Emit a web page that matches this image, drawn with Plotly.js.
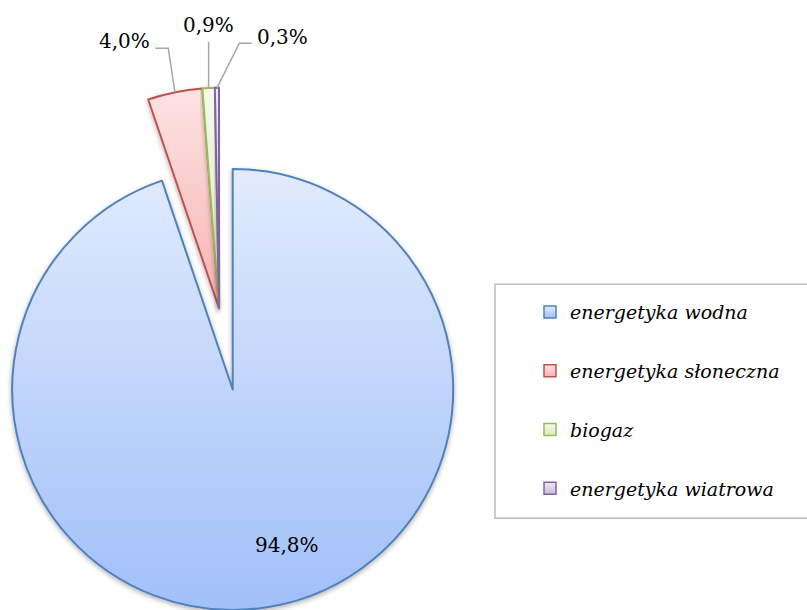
<!DOCTYPE html>
<html>
<head>
<meta charset="utf-8">
<script src="https://cdn.plot.ly/plotly-3.0.1.min.js"></script>
<style>
  html, body { margin: 0; padding: 0; overflow: hidden; background: #fff; width: 807px; height: 610px; }
  #chart { position: absolute; left: -10px; top: -10px; width: 827px; height: 630px; }
</style>
</head>
<body>
<div id="chart"></div>
<script>
// Udział źródeł energii odnawialnej (%)
const labels = ['energetyka wodna', 'energetyka słoneczna', 'biogaz', 'energetyka wiatrowa'];
const shares = [94.8, 4.0, 0.9, 0.3];

// colours per slice
const lineColors = ['#4f81bd', '#c0504d', '#9bbb59', '#8064a2'];
const fillTop = ['#e1ebfd', '#fde3e3', '#f4fae9', '#ece7f4'];
const fillBottom = ['#a1bff9', '#f8b2b2', '#d8ebb9', '#c9bcdf'];

// page geometry: the plot div is 10px larger on every side than the window
const W = 827, H = 630, PAD = 10;
const px = sx => (sx + PAD) / W;
const py = sy => 1 - (sy + PAD) / H;

const R = 220.5;
const mainCenter = [232.7, 389.5];     // unexploded slice
const pulledCenter = [219, 308.3];     // exploded group of small slices

function domainAt(c) {
  return { x: [px(c[0] - R), px(c[0] + R)], y: [py(c[1] + R), py(c[1] - R)] };
}

const clear = 'rgba(0,0,0,0)';
function pieTrace(center, shown) {
  return {
    type: 'pie',
    labels: labels,
    values: shares,
    sort: false,
    direction: 'clockwise',
    rotation: 0,
    domain: domainAt(center),
    textinfo: 'none',
    hoverinfo: 'skip',
    showlegend: false,
    marker: {
      colors: labels.map((_, i) => shown[i] ? fillTop[i] : clear),
      line: { color: labels.map((_, i) => shown[i] ? lineColors[i] : clear), width: 2 }
    }
  };
}

const mainPie = pieTrace(mainCenter, [true, false, false, false]);
const pulledPie = pieTrace(pulledCenter, [false, true, true, true]);

// legend entries (one group per source so the rows can be spaced apart)
const legendPies = labels.map((lab, i) => ({
  type: 'pie',
  labels: [lab],
  values: [1],
  domain: { x: [0, 0.0001], y: [0, 0.0001] },
  textinfo: 'none',
  hoverinfo: 'skip',
  legendgroup: 'g' + i,
  marker: { colors: [fillTop[i]], line: { color: lineColors[i], width: 1.5 } }
}));

// percentage labels
const total = shares.reduce((a, b) => a + b, 0);
const pctText = shares.map(v => (v / total * 100).toFixed(1).replace('.', ',') + '%');
const labelSpots = [[287, 544.7], [124.7, 41], [208.5, 24.5], [282.5, 36.7]];

const annotations = pctText.map((t, i) => ({
  xref: 'paper', yref: 'paper',
  x: px(labelSpots[i][0]), y: py(labelSpots[i][1]),
  xanchor: 'center', yanchor: 'middle',
  text: t, showarrow: false,
  font: { family: 'DejaVu Serif', size: 20, color: '#000' }
}));

// point on the outer arc of an exploded slice, at its mid angle
function arcPoint(center, i) {
  const before = shares.slice(0, i).reduce((a, b) => a + b, 0);
  const th = 2 * Math.PI * (before + shares[i] / 2) / total;
  return [center[0] + R * Math.sin(th), center[1] - R * Math.cos(th)];
}

const a1 = arcPoint(pulledCenter, 1), a2 = arcPoint(pulledCenter, 2), a3 = arcPoint(pulledCenter, 3);
const leaders = [
  [[155.3, 48.3], [168.3, 48.3], a1],
  [[a2[0], 41.7], a2],
  [[251.7, 43.3], [239.3, 43.3], a3]
];

const shapes = leaders.map(pts => ({
  type: 'path', xref: 'paper', yref: 'paper',
  path: pts.map((p, k) => (k ? 'L' : 'M') + px(p[0]) + ',' + py(p[1])).join(' '),
  line: { color: '#a6a6a6', width: 1.5 }
}));

// legend frame
shapes.push({
  type: 'rect', xref: 'paper', yref: 'paper',
  x0: px(495), x1: px(840), y0: py(518.3), y1: py(284.3),
  line: { color: '#bdbdbd', width: 1.5 }, fillcolor: 'rgba(0,0,0,0)'
});

const layout = {
  width: W, height: H,
  margin: { l: 0, r: 0, t: 0, b: 0, pad: 0 },
  paper_bgcolor: '#fff',
  plot_bgcolor: '#fff',
  showlegend: true,
  legend: {
    x: px(530), y: py(293.2), xanchor: 'left', yanchor: 'top',
    bgcolor: 'rgba(0,0,0,0)', borderwidth: 0,
    traceorder: 'grouped', tracegroupgap: 31,
    font: { family: 'DejaVu Serif', size: 19, style: 'italic', color: '#000' }
  },
  annotations: annotations,
  shapes: shapes
};

Plotly.newPlot('chart', [mainPie, pulledPie].concat(legendPies), layout, { staticPlot: true }).then(gd => {
  const NS = 'http://www.w3.org/2000/svg';
  const svg = gd.querySelector('svg.main-svg');
  const defs = document.createElementNS(NS, 'defs');
  labels.forEach((_, i) => {
    const g = document.createElementNS(NS, 'linearGradient');
    g.setAttribute('id', 'sliceFill' + i);
    g.setAttribute('x1', '0'); g.setAttribute('y1', '0');
    g.setAttribute('x2', '0'); g.setAttribute('y2', '1');
    [[0, fillTop[i]], [1, fillBottom[i]]].forEach(([o, c]) => {
      const s = document.createElementNS(NS, 'stop');
      s.setAttribute('offset', o);
      s.setAttribute('stop-color', c);
      g.appendChild(s);
    });
    defs.appendChild(g);
  });
  const f = document.createElementNS(NS, 'filter');
  f.setAttribute('id', 'sliceShadow');
  f.setAttribute('x', '-10%'); f.setAttribute('y', '-10%');
  f.setAttribute('width', '120%'); f.setAttribute('height', '120%');
  const ds = document.createElementNS(NS, 'feDropShadow');
  ds.setAttribute('dx', '0'); ds.setAttribute('dy', '2');
  ds.setAttribute('stdDeviation', '2.5');
  ds.setAttribute('flood-color', '#000');
  ds.setAttribute('flood-opacity', '0.3');
  f.appendChild(ds);
  defs.appendChild(f);
  svg.insertBefore(defs, svg.firstChild);

  const pieGroups = gd.querySelectorAll('.pielayer .trace');
  const paint = (traceIdx, sliceIdx) => {
    const p = pieGroups[traceIdx].querySelectorAll('g.slice path.surface')[sliceIdx];
    if (!p) return;
    p.style.fill = 'url(#sliceFill' + sliceIdx + ')';
    p.style.fillOpacity = 1;
    p.style.filter = 'url(#sliceShadow)';
  };
  paint(0, 0);
  [1, 2, 3].forEach(i => paint(1, i));

  gd.querySelectorAll('.legend .legendpie').forEach((p, i) => {
    p.style.fill = 'url(#sliceFill' + i + ')';
  });
});
</script>
</body>
</html>
